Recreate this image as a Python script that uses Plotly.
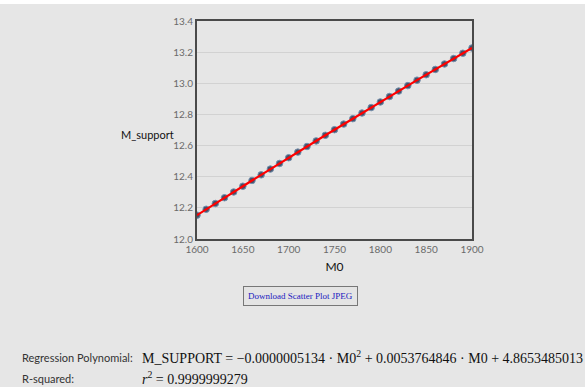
import plotly.graph_objects as go

m0 = [1600, 1610, 1620, 1630, 1640, 1650, 1660, 1670, 1680, 1690, 1700,
      1710, 1720, 1730, 1740, 1750, 1760, 1770, 1780, 1790, 1800,
      1810, 1820, 1830, 1840, 1850, 1860, 1870, 1880, 1890, 1900]
m_support = [12.153, 12.191, 12.228, 12.265, 12.302, 12.339, 12.376, 12.412, 12.449, 12.485, 12.522,
             12.558, 12.594, 12.630, 12.666, 12.702, 12.738, 12.773, 12.809, 12.844, 12.880,
             12.915, 12.950, 12.985, 13.020, 13.055, 13.089, 13.124, 13.159, 13.193, 13.227]
fit_y = m_support

x_ticks = [1600, 1650, 1700, 1750, 1800, 1850, 1900]
y_ticks = [12.0, 12.2, 12.4, 12.6, 12.8, 13.0, 13.2, 13.4]
y_tick_text = ["12.0", "12.2", "12.4", "12.6", "12.8", "13.0", "13.2", "13.4"]

W, H = 585, 387
BG = "#e6e6e6"
SANS = "Lato, 'DejaVu Sans', sans-serif"
SERIF = "'Liberation Serif', 'DejaVu Serif', serif"

fig = go.Figure()
fig.add_trace(go.Scatter(
    x=m0, y=m_support, mode="markers",
    marker=dict(size=6.5, color="#44526a", line=dict(color="#7590ad", width=1)),
    showlegend=False, hoverinfo="x+y"))
fig.add_trace(go.Scatter(
    x=m0, y=fit_y, mode="lines",
    line=dict(color="#ff0000", width=2.2),
    showlegend=False, hoverinfo="skip"))

fig.update_layout(
    template="none",
    autosize=False,
    width=W, height=H,
    margin=dict(l=0, r=0, t=0, b=0, pad=0, autoexpand=False),
    paper_bgcolor=BG, plot_bgcolor=BG,
    xaxis=dict(domain=[197 / W, 472 / W], range=[1600, 1900], automargin=False,
               tickvals=x_ticks, ticks="", showgrid=False, zeroline=False,
               showline=True, mirror=True, linecolor="#4a4a4a", linewidth=2,
               tickfont=dict(family=SANS, size=10, color="#6a6a6a"),
               title=dict(text="M0", font=dict(family=SANS, size=12, color="#111111"),
                          standoff=9)),
    yaxis=dict(domain=[(H - 239) / H, (H - 21) / H], range=[12.0, 13.4], automargin=False,
               tickvals=y_ticks, ticktext=y_tick_text, ticks="",
               showgrid=True, gridcolor="#d2d2d2", gridwidth=1, zeroline=False,
               showline=True, mirror=True, linecolor="#4a4a4a", linewidth=2,
               tickfont=dict(family=SANS, size=10, color="#6a6a6a")),
)

# M_support label (horizontal, left of axis)
fig.add_annotation(x=176 / W, y=(H - 135) / H, xref="paper", yref="paper",
                   text="M_support", showarrow=False, xanchor="right", yanchor="middle",
                   font=dict(family=SANS, size=11, color="#111111"))

# top white strip
fig.add_shape(type="rect", xref="paper", yref="paper", x0=0, x1=1,
              y0=(H - 4) / H, y1=1, fillcolor="#ffffff", line=dict(width=0), layer="above")

# Download button
fig.add_annotation(x=301 / W, y=(H - 296) / H, xref="paper", yref="paper",
                   text="Download Scatter Plot JPEG", showarrow=False,
                   xanchor="center", yanchor="middle",
                   font=dict(family=SERIF, size=9, color="#2020c0"),
                   bgcolor="#e4e4e4", bordercolor="#777777", borderwidth=1, borderpad=4)

# Regression text
fig.add_annotation(x=20 / W, y=(H - 357) / H, xref="paper", yref="paper",
                   text="Regression Polynomial:", showarrow=False,
                   xanchor="left", yanchor="middle",
                   font=dict(family=SANS, size=11, color="#333333"))
fig.add_annotation(x=140 / W, y=(H - 357) / H, xref="paper", yref="paper",
                   text="M_SUPPORT = \u22120.0000005134 \u00b7 M0<sup>2</sup> + 0.0053764846 \u00b7 M0 + 4.8653485013",
                   showarrow=False, xanchor="left", yanchor="middle",
                   font=dict(family=SERIF, size=14, color="#111111"))
fig.add_annotation(x=20 / W, y=(H - 378) / H, xref="paper", yref="paper",
                   text="R-squared:", showarrow=False,
                   xanchor="left", yanchor="middle",
                   font=dict(family=SANS, size=11, color="#333333"))
fig.add_annotation(x=140 / W, y=(H - 378) / H, xref="paper", yref="paper",
                   text="<i>r</i><sup>2</sup> = 0.9999999279",
                   showarrow=False, xanchor="left", yanchor="middle",
                   font=dict(family=SERIF, size=14, color="#111111"))

fig.write_html("out.html")
